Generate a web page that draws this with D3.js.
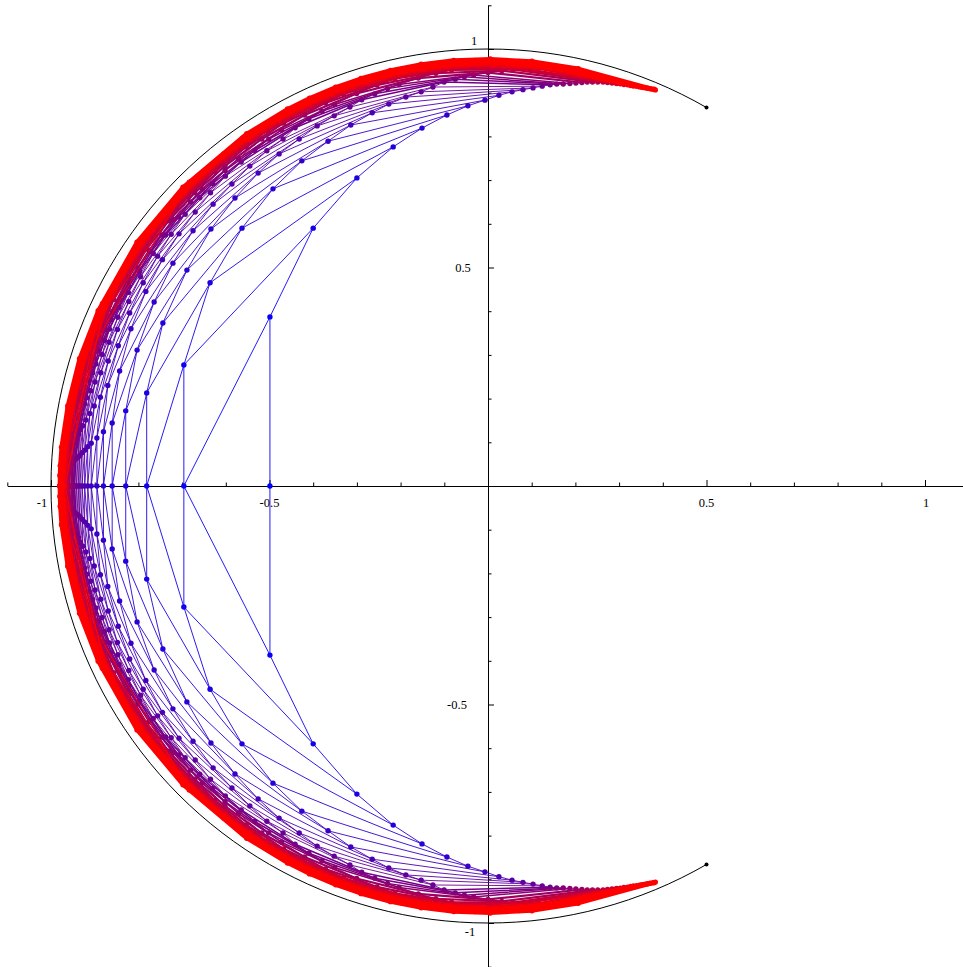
<!DOCTYPE html>
<html>
<head>
<meta charset="utf-8">
<script src="https://cdn.jsdelivr.net/npm/d3@7"></script>
<style>
html, body { margin: 0; padding: 0; background: #fff; }
svg { display: block; }
text { font-family: "Liberation Serif", "DejaVu Serif", serif; font-size: 12.5px; fill: #000; }
</style>
</head>
<body>
<svg id="chart" width="963" height="967"></svg>
<script>
// chains: chain n holds the points k = 0,1,2,... (upper half, x / y), level m = n + k
const p1 = [[-0.499,0],[-0.499,0.387],[-0.400,0.590],[-0.300,0.705],[-0.217,0.776],[-0.151,0.819],[-0.094,0.849],[-0.046,0.870],[-0.007,0.883],[0.025,0.894],[0.055,0.902],[0.080,0.907],[0.103,0.911],[0.124,0.915]];
const p2 = [[-0.696,0],[-0.696,0.277],[-0.636,0.465],[-0.563,0.590],[-0.492,0.680],[-0.426,0.744],[-0.366,0.789],[-0.314,0.826],[-0.265,0.854],[-0.227,0.874],[-0.188,0.890],[-0.153,0.902],[-0.126,0.913]];
const p3 = [[-0.781,0],[-0.781,0.213],[-0.744,0.373],[-0.689,0.494],[-0.634,0.588],[-0.579,0.659],[-0.526,0.716],[-0.478,0.760],[-0.432,0.794],[-0.391,0.824],[-0.352,0.847],[-0.316,0.867]];
const p4 = [[-0.829,0],[-0.829,0.172],[-0.803,0.311],[-0.764,0.421],[-0.721,0.510],[-0.675,0.584],[-0.629,0.645],[-0.586,0.691],[-0.545,0.732],[-0.506,0.767],[-0.469,0.794]];
const p5 = [[-0.860,0],[-0.860,0.144],[-0.843,0.263],[-0.817,0.360],[-0.783,0.445],[-0.745,0.518],[-0.707,0.577],[-0.670,0.627],[-0.635,0.671],[-0.601,0.709]];
const p6 = [[-0.880,0],[-0.880,0.124],[-0.870,0.230],[-0.846,0.321],[-0.820,0.396],[-0.789,0.465],[-0.756,0.526],[-0.725,0.576],[-0.693,0.622]];
const p7 = [[-0.895,0],[-0.895,0.110],[-0.887,0.203],[-0.869,0.286],[-0.848,0.358],[-0.822,0.422],[-0.795,0.479],[-0.766,0.532]];
const p8 = [[-0.908,0],[-0.908,0.098],[-0.901,0.183],[-0.886,0.259],[-0.867,0.329],[-0.847,0.386],[-0.823,0.443]];
const p9 = [[-0.916,0],[-0.916,0.090],[-0.911,0.166],[-0.899,0.238],[-0.883,0.301],[-0.866,0.359]];
const p10 = [[-0.923,0],[-0.923,0.082],[-0.920,0.151],[-0.909,0.218],[-0.897,0.279]];
const p11 = [[-0.929,0],[-0.929,0.076],[-0.927,0.138],[-0.918,0.202]];
const p12 = [[-0.934,0],[-0.934,0.070],[-0.933,0.128]];
const p13 = [[-0.938,0],[-0.938,0.066]];
const p14 = [[-0.942,0]];
const chains = [p1, p2, p3, p4, p5, p6, p7, p8, p9, p10, p11, p12, p13, p14];

// outer levels, read as [j, angle in degrees, radius]; the point j sits on chain m - j
const bandLevels = [15, 16, 17, 18, 20, 22, 24, 26, 29, 32, 35, 38, 42];
const band15 = [[0,180,.946],[1,176.2,.945],[2,172.8,.944],[3,168.5,.942],[4,164.0,.941],[5,159.2,.939],[6,154.2,.938],[7,148.4,.936],[8,142.1,.935],[9,135.0,.933],[10,127.3,.932],[11,118.3,.931],[12,108.1,.930],[13,96.2,.930],[14,81.2,.929]];
const band16 = [[0,180,.949],[1,176.4,.948],[2,173.3,.947],[3,169.3,.946],[4,165.2,.944],[5,160.8,.943],[6,156.2,.942],[7,151.0,.940],[8,145.2,.939],[9,139.0,.938],[10,132.3,.936],[11,124.8,.935],[12,116.0,.935],[13,106.1,.934],[14,94.6,.934],[15,80.3,.933]];
const band17 = [[0,180,.952],[1,176.6,.951],[2,173.7,.950],[3,170.1,.949],[4,166.2,.948],[5,162.1,.947],[6,157.8,.946],[7,153.2,.944],[8,148.1,.943],[9,142.4,.942],[10,136.3,.941],[11,129.8,.940],[12,122.3,.939],[13,113.9,.938],[14,104.2,.938],[15,93.3,.938],[16,79.4,.936]];
const band18 = [[0,180,.954],[1,176.9,.953],[2,174.0,.952],[3,170.7,.951],[4,167.1,.950],[5,163.3,.950],[6,159.2,.949],[7,155.1,.947],[8,150.4,.946],[9,145.2,.945],[10,139.7,.944],[11,133.9,.943],[12,127.3,.942],[13,120.1,.942],[14,111.9,.941],[15,102.5,.941],[16,92.0,.941],[17,78.5,.940]];
const band20 = [[0,180,.958],[1,177.2,.957],[2,174.6,.957],[3,171.8,.956],[4,168.5,.955],[5,165.2,.955],[7,158.1,.953],[9,149.9,.951],[10,145.2,.951],[11,140.3,.950],[12,135.0,.949],[13,129.4,.948],[14,123.1,.948],[15,116.3,.947],[16,108.5,.947],[17,99.7,.947],[18,90.0,.946],[19,76.9,.948]];
const band22 = [[0,180,.962],[1,177.4,.961],[2,175.0,.961],[3,172.6,.960],[5,166.7,.959],[7,160.4,.958],[9,153.5,.957],[11,145.2,.955],[12,140.8,.955],[13,136.0,.954],[14,131.0,.953],[15,125.5,.953],[16,119.4,.953],[17,113.0,.952],[18,105.5,.952],[19,97.2,.952],[20,88.1,.951],[21,75.5,.955]];
const band24 = [[0,180,.965],[1,177.6,.964],[2,175.4,.964],[4,170.7,.963],[6,165.2,.962],[8,159.2,.961],[10,152.8,.960],[12,145.2,.959],[13,141.2,.958],[14,136.9,.958],[15,132.3,.957],[16,127.3,.957],[17,121.9,.957],[18,116.3,.956],[19,110.2,.956],[20,102.9,.956],[21,95.0,.956],[22,86.6,.955],[23,74.1,.961]];
const band26 = [[0,180,.967],[1,177.8,.966],[2,175.7,.966],[4,171.6,.966],[6,166.5,.965],[8,161.2,.964],[10,155.5,.963],[12,148.9,.962],[14,141.5,.961],[15,137.6,.961],[16,133.4,.960],[17,128.9,.960],[18,124.2,.960],[19,119.0,.959],[20,113.6,.959],[21,107.6,.959],[22,100.8,.959],[23,93.2,.959],[24,85.1,.958],[25,72.9,.965]];
const band29 = [[0,180,.970],[1,178.0,.969],[2,176.0,.969],[4,172.5,.969],[6,168.0,.968],[9,161.0,.967],[12,153.0,.966],[15,143.6,.965],[17,136.6,.964],[18,132.8,.964],[19,128.8,.964],[20,124.5,.963],[21,119.8,.963],[22,115.1,.963],[23,110.0,.963],[24,104.2,.963],[25,97.9,.963],[26,91.0,.963],[27,83.3,.963],[28,71.3,.970]];
const band32 = [[0,180,.973],[1,178.2,.972],[2,176.4,.972],[4,173.3,.972],[7,167.3,.971],[10,160.8,.970],[13,153.7,.969],[16,145.2,.969],[19,135.7,.968],[21,128.7,.968],[22,124.8,.967],[23,120.5,.967],[24,116.3,.967],[25,111.7,.967],[26,106.8,.967],[27,101.5,.967],[28,95.4,.967],[29,89.0,.967],[30,81.9,.967],[31,70.0,.974]];
const band35 = [[0,180,.975],[1,178.4,.975],[2,176.8,.975],[4,173.8,.974],[7,168.5,.974],[10,162.7,.973],[14,154.2,.972],[18,143.9,.972],[21,135.0,.971],[23,128.5,.971],[25,121.0,.970],[26,117.3,.970],[27,113.2,.970],[28,108.8,.970],[29,104.1,.970],[30,99.0,.970],[31,93.4,.970],[32,87.3,.970],[33,80.5,.970],[34,68.9,.978]];
const band38 = [[0,180,.978],[1,178.5,.978],[2,177.0,.978],[4,174.3,.977],[7,169.5,.977],[11,162.5,.976],[15,154.7,.976],[19,145.2,.975],[23,134.5,.975],[26,125.2,.974],[28,118.2,.974],[29,114.5,.974],[30,110.5,.974],[31,106.2,.974],[32,101.8,.974],[33,97.0,.974],[34,91.7,.974],[35,85.8,.974],[36,79.3,.974],[37,68.1,.981]];
const band42 = [[0,180,.980],[1,178.6,.980],[2,177.3,.980],[4,174.8,.980],[8,169.2,.979],[12,162.7,.979],[16,155.8,.978],[21,145.2,.978],[25,135.6,.977],[29,124.4,.977],[31,118.0,.977],[32,114.7,.977],[33,110.9,.977],[34,107.3,.977],[35,103.2,.977],[36,99.0,.977],[37,94.6,.977],[38,89.7,.977],[39,84.1,.977],[40,77.8,.977],[41,67.1,.984]];
const bands = [band15, band16, band17, band18, band20, band22, band24, band26, band29, band32, band35, band38, band42];

// inner edge towards the tip (chain 1), [k, angle, radius]
const p1Tail = [[14,81.2,.929],[15,80.3,.933],[16,79.4,.936],[17,78.5,.940],[18,77.7,.944],[19,76.9,.948],[20,76.2,.952],[21,75.5,.955],[22,74.8,.958],[23,74.1,.961],[24,73.5,.963],[25,72.9,.965],[26,72.3,.967],[27,71.8,.969],[28,71.3,.970],[29,70.8,.972],[30,70.4,.973],[31,70.0,.974],[32,69.6,.976],[33,69.2,.977],[34,68.9,.978],[35,68.6,.979],[36,68.3,.980],[37,68.1,.981],[38,67.8,.982],[39,67.5,.983],[40,67.3,.984],[41,67.1,.984]];

const maxLevel = 42;
const redLevel = 32;                  // level from which the marks are fully red
const circleArc = [60, 300];          // unit circle, degrees
const circleEnds = [[0.5, 0.866], [0.5, -0.866]];
const xLabels = [-1, -0.5, 0.5, 1];
const yLabels = [1, 0.5, -0.5, -1];

const svg = d3.select("#chart");

const x = d3.scaleLinear().domain([-1.1, 1.1]).range([7.3, 968.7]);
const y = d3.scaleLinear().domain([-1.1, 1.1]).range([966.7, 5.3]);
const color = d3.scaleLinear()
    .domain([1, redLevel])
    .range(["#0000ff", "#ff0000"])
    .interpolate(d3.interpolateRgb)
    .clamp(true);

// axes
const minorTicks = d3.range(-11, 12).filter(i => i % 5 !== 0).map(i => i / 10);
const majorTicks = [-1, -0.5, 0.5, 1];

svg.append("g")
    .attr("transform", "translate(0," + y(0) + ")")
    .call(d3.axisTop(x).tickValues(minorTicks).tickSize(3.5).tickSizeOuter(0).tickFormat(""));
svg.append("g")
    .attr("transform", "translate(0," + y(0) + ")")
    .call(d3.axisTop(x).tickValues(majorTicks).tickSize(6).tickSizeOuter(0).tickFormat(""))
    .call(g => g.select(".domain").remove());
svg.append("g")
    .attr("transform", "translate(" + x(0) + ",0)")
    .call(d3.axisRight(y).tickValues(minorTicks).tickSize(3.5).tickSizeOuter(0).tickFormat(""));
svg.append("g")
    .attr("transform", "translate(" + x(0) + ",0)")
    .call(d3.axisRight(y).tickValues(majorTicks).tickSize(6).tickSizeOuter(0).tickFormat(""))
    .call(g => g.select(".domain").remove());

// tick labels (the +-1 labels sit a little further out, as in the picture)
const xLabelShift = {"-1": -9, "-0.5": 0, "0.5": 0, "1": 1};
svg.append("g").selectAll("text")
    .data(xLabels)
    .enter().append("text")
    .attr("x", d => x(d) + xLabelShift[d])
    .attr("y", y(0) + 17)
    .attr("dy", "0.33em")
    .attr("text-anchor", "middle")
    .text(d => d);

const yLabelPos = {"1": [-14, -8], "0.5": [-25, 0.5], "-0.5": [-31, 0.5], "-1": [-18, 9]};
svg.append("g").selectAll("text")
    .data(yLabels)
    .enter().append("text")
    .attr("x", d => x(0) + yLabelPos[d][0])
    .attr("y", d => y(d) + yLabelPos[d][1])
    .attr("dy", "0.33em")
    .attr("text-anchor", "middle")
    .text(d => d);

// unit circle arc and its two end points
const R = x(1) - x(0);
const arcPath = d3.path();
arcPath.arc(x(0), y(0), R, -circleArc[0] * Math.PI / 180, (360 - circleArc[1]) * Math.PI / 180, true);
svg.append("path")
    .attr("d", arcPath.toString())
    .attr("fill", "none")
    .attr("stroke", "#000")
    .attr("stroke-width", 1);
svg.append("g").selectAll("circle")
    .data(circleEnds)
    .enter().append("circle")
    .attr("cx", d => x(d[0]))
    .attr("cy", d => y(d[1]))
    .attr("r", 2)
    .attr("fill", "#000");

// collect every point by chain n and index k
const pts = new Map();
function addPt(n, k, px, py) {
    pts.set(n + "," + k, {n: n, k: k, m: n + k, x: px, y: py});
}
function polar(a, r) {
    const t = a * Math.PI / 180;
    return [r * Math.cos(t), r * Math.sin(t)];
}
chains.forEach((c, i) => c.forEach((p, k) => addPt(i + 1, k, p[0], p[1])));
bands.forEach((b, i) => {
    const m = bandLevels[i];
    b.forEach(d => {
        const p = polar(d[1], d[2]);
        addPt(m - d[0], d[0], p[0], p[1]);
    });
});
p1Tail.forEach(d => {
    const p = polar(d[1], d[2]);
    addPt(1, d[0], p[0], p[1]);
});

// the sparse outer levels stand for many levels each, so they get wider strokes
function levelWidth(m) {
    if (m <= 14) return 0.9;
    if (m <= 18) return 1.5;
    if (m <= 24) return 2.2;
    if (m <= 32) return 2.8;
    if (m < 42) return 3.4;
    return 4.2;
}

const all = Array.from(pts.values());
const segs = [];
d3.group(all, d => d.n).forEach(list => {
    list.sort((a, b) => a.k - b.k);
    for (let i = 1; i < list.length; i++) {
        segs.push({m: list[i].m, p: [list[i - 1], list[i]], w: 0.9});
    }
});
d3.group(all, d => d.m).forEach((list, m) => {
    if (list.length < 2) return;
    list.sort((a, b) => a.k - b.k);
    segs.push({m: m, p: list, w: levelWidth(m)});
});

const upper = d3.line().x(d => x(d.x)).y(d => y(d.y));
const lower = d3.line().x(d => x(d.x)).y(d => y(-d.y));

const plot = svg.append("g");
d3.range(1, maxLevel + 1).forEach(m => {
    const g = plot.append("g");
    const s = segs.filter(d => d.m === m);
    const p = all.filter(d => d.m === m);
    g.selectAll("path.up")
        .data(s)
        .enter().append("path")
        .attr("d", d => upper(d.p))
        .attr("fill", "none")
        .attr("stroke", color(m))
        .attr("stroke-width", d => d.w)
        .attr("stroke-linejoin", "round");
    g.selectAll("path.low")
        .data(s)
        .enter().append("path")
        .attr("d", d => lower(d.p))
        .attr("fill", "none")
        .attr("stroke", color(m))
        .attr("stroke-width", d => d.w)
        .attr("stroke-linejoin", "round");
    g.selectAll("circle.up")
        .data(p)
        .enter().append("circle")
        .attr("cx", d => x(d.x))
        .attr("cy", d => y(d.y))
        .attr("r", 2.7)
        .attr("fill", color(m));
    g.selectAll("circle.low")
        .data(p.filter(d => d.y > 0))
        .enter().append("circle")
        .attr("cx", d => x(d.x))
        .attr("cy", d => y(-d.y))
        .attr("r", 2.7)
        .attr("fill", color(m));
});
</script>
</body>
</html>
